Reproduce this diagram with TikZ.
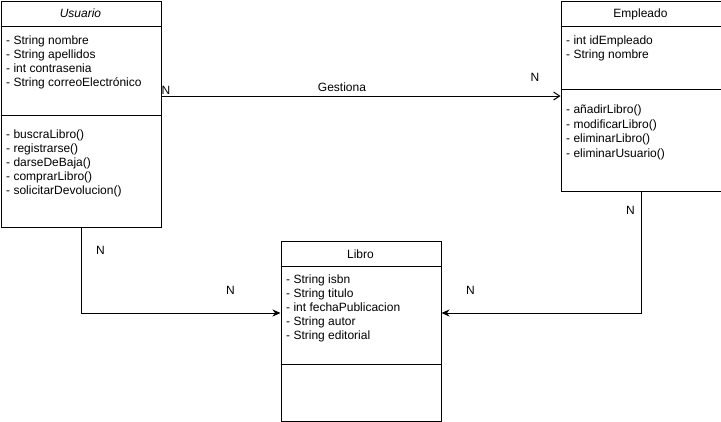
\documentclass[tikz,border=0pt]{standalone}
\usepackage{fontspec}
\setmainfont{Liberation Sans}
\usetikzlibrary{arrows.meta,calc}
\begin{document}
\begin{tikzpicture}[x=1pt,y=-1pt,
  box/.style={draw,line width=1pt,anchor=north west,inner sep=0pt,minimum width=160pt},
  sep/.style={line width=1pt},
  txt/.style={anchor=base west,inner sep=0pt,font=\fontsize{12}{14}\selectfont},
  ttl/.style={anchor=base,inner sep=0pt,font=\fontsize{12}{14}\selectfont},
  lbl/.style={inner sep=0pt,font=\fontsize{12}{14}\selectfont},
  conn/.style={line width=1pt},
  open/.style={-{Straight Barb[length=6pt,width=8pt,line width=1pt]}},
  solid/.style={-{Stealth[length=8pt,width=7pt,inset=2.5pt]}}]
\useasboundingbox (0,0) rectangle (721,421);
% boxes
\node[box,minimum height=226pt] (usuario) at (0.5,0.5) {};
\node[box,minimum height=190pt] (empleado) at (560.5,0.5) {};
\node[box,minimum height=180pt] (libro) at (280.5,240.5) {};
% compartments
\draw[sep] ($(usuario.north west)+(0,26)$) -- ($(usuario.north east)+(0,26)$);
\draw[sep] ($(usuario.north west)+(0,115)$) -- ($(usuario.north east)+(0,115)$);
\draw[sep] ($(empleado.north west)+(0,26)$) -- ($(empleado.north east)+(0,26)$);
\draw[sep] ($(empleado.north west)+(0,89)$) -- ($(empleado.north east)+(0,89)$);
\draw[sep] ($(libro.north west)+(0,26)$) -- ($(libro.north east)+(0,26)$);
\draw[sep] ($(libro.north west)+(0,124)$) -- ($(libro.north east)+(0,124)$);
% Usuario texts
\node[ttl] (ut) at (80.5,17.5) {\itshape Usuario};
\node[txt] (ua1) at (6,44) {- String nombre};
\node[txt] (ua2) at (6,58) {- String apellidos};
\node[txt] (ua3) at (6,72) {- int contrasenia};
\node[txt] (ua4) at (6,86) {- String correoElectrónico};
\node[txt] (um1) at (6,138) {- buscraLibro()};
\node[txt] (um2) at (6,152) {- registrarse()};
\node[txt] (um3) at (6,166) {- darseDeBaja()};
\node[txt] (um4) at (6,180) {- comprarLibro()};
\node[txt] (um5) at (6,194) {- solicitarDevolucion()};
% Empleado texts
\node[ttl] (et) at (640.5,17.5) {Empleado};
\node[txt] (ea1) at (566,44) {- int idEmpleado};
\node[txt] (ea2) at (566,58) {- String nombre};
\node[txt] (em1) at (566,113.5) {- añadirLibro()};
\node[txt] (em2) at (566,128) {- modificarLibro()};
\node[txt] (em3) at (566,142.5) {- eliminarLibro()};
\node[txt] (em4) at (566,157) {- eliminarUsuario()};
% Libro texts
\node[ttl] (lt) at (360.5,258) {Libro};
\node[txt] (la1) at (286,283) {- String isbn};
\node[txt] (la2) at (286,297) {- String titulo};
\node[txt] (la3) at (286,311) {- int fechaPublicacion};
\node[txt] (la4) at (286,325) {- String autor};
\node[txt] (la5) at (286,339) {- String editorial};
% connectors
\draw[conn,open] ($(usuario.north east)+(0,95.5)$) -- ($(empleado.north west)+(0,95.5)$);
\draw[conn,solid] (usuario.south) |- ($(libro.north west)+(0,72.5)$);
\draw[conn,solid] (empleado.south) |- ($(libro.north east)+(0,72.5)$);
% labels
\node[lbl] (gest) at (342,87) {Gestiona};
\node[lbl] (n1) at (166,90.5) {N};
\node[lbl] (n2) at (535,77.5) {N};
\node[lbl] (n3) at (100.5,250) {N};
\node[lbl] (n4) at (230.5,290) {N};
\node[lbl] (n5) at (470.5,290) {N};
\node[lbl] (n6) at (630.5,210) {N};
\end{tikzpicture}
\end{document}
